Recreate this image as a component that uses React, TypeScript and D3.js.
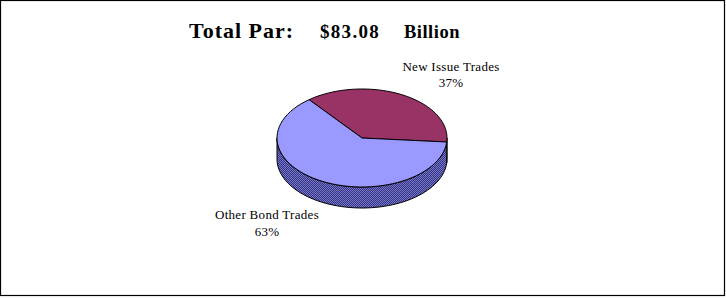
import React from "react";
import * as d3 from "d3";

// Share of total par by trade type
const categories = ["New Issue Trades", "Other Bond Trades"];
const shares = [37, 63];
const percentLabels = ["37%", "63%"];
const titleParts = ["Total Par:", "$83.08", "Billion"];

const W = 726;
const H = 298;

const topColors = ["#993366", "#9999FF"];
const sideFills = ["#4a1030", "url(#sideChecker)"];

export default function App() {
  const cx = 362;
  const cy = 138;
  const rx = 85;
  const ry = 49;
  const depth = 21;

  const start = (-38.5 * Math.PI) / 180;
  const pie = d3
    .pie<number>()
    .sort(null)
    .startAngle(start)
    .endAngle(start + 2 * Math.PI);
  const arcs = pie(shares);

  // project a d3 pie angle (0 at 12 o'clock, clockwise) onto the tilted ellipse
  const px = (a: number) => cx + rx * Math.sin(a);
  const py = (a: number, dy = 0) => cy - ry * Math.cos(a) + dy;

  const ellipseArc = (a0: number, a1: number, dy = 0) => {
    const pts = d3.range(0, 61).map((i) => {
      const a = a0 + ((a1 - a0) * i) / 60;
      return [px(a), py(a, dy)] as [number, number];
    });
    return pts;
  };

  const topPath = (a0: number, a1: number) => {
    const pts = ellipseArc(a0, a1);
    return (
      `M${cx},${cy}` +
      pts.map((p) => `L${p[0].toFixed(2)},${p[1].toFixed(2)}`).join("") +
      "Z"
    );
  };

  // visible front wall spans d3 angles PI/2 .. 3PI/2 (screen right -> left through bottom)
  const sidePath = (a0: number, a1: number) => {
    const lo = Math.PI / 2;
    const hi = (3 * Math.PI) / 2;
    const segs: [number, number][] = [];
    for (const k of [-1, 0, 1]) {
      const s = Math.max(a0, lo + k * 2 * Math.PI);
      const e = Math.min(a1, hi + k * 2 * Math.PI);
      if (e > s) segs.push([s, e]);
    }
    return segs
      .map(([s, e]) => {
        const top = ellipseArc(s, e);
        const bot = ellipseArc(s, e, depth).reverse();
        return (
          "M" +
          top.map((p) => `${p[0].toFixed(2)},${p[1].toFixed(2)}`).join("L") +
          "L" +
          bot.map((p) => `${p[0].toFixed(2)},${p[1].toFixed(2)}`).join("L") +
          "Z"
        );
      })
      .join("");
  };

  const font = "'Liberation Serif', 'Times New Roman', serif";

  return (
    <svg
      width={W}
      height={H}
      style={{ position: "absolute", left: 0, top: 0 }}
    >
      <defs>
        <pattern
          id="sideChecker"
          width={2}
          height={2}
          patternUnits="userSpaceOnUse"
        >
          <rect width={2} height={2} fill="#333380" />
          <rect width={1} height={1} fill="#7777cc" />
          <rect x={1} y={1} width={1} height={1} fill="#7777cc" />
        </pattern>
      </defs>
      <rect x={0} y={0} width={W} height={H} fill="#fff" />
      <rect
        x={0.5}
        y={0.5}
        width={724}
        height={295}
        fill="none"
        stroke="#000"
        strokeWidth={1.2}
      />

      <g fontFamily={font} fontWeight="bold" fill="#000">
        <text x={189} y={38} fontSize={22} letterSpacing={1}>
          {titleParts[0]}
        </text>
        <text x={320} y={38} fontSize={19} letterSpacing={1.3}>
          {titleParts[1]}
        </text>
        <text x={404} y={38} fontSize={18.5} letterSpacing={0.5}>
          {titleParts[2]}
        </text>
      </g>

      {arcs.map((a, i) => (
        <path
          key={"side" + i}
          d={sidePath(a.startAngle, a.endAngle)}
          fill={sideFills[i]}
          stroke="#000"
          strokeWidth={1}
        />
      ))}
      {arcs.map((a, i) => (
        <path
          key={"top" + i}
          d={topPath(a.startAngle, a.endAngle)}
          fill={topColors[i]}
          stroke="#000"
          strokeWidth={1}
        />
      ))}

      <g
        fontFamily={font}
        fontSize={13}
        fill="#000"
        textAnchor="middle"
        letterSpacing={0.3}
      >
        <text x={451} y={71}>
          {categories[0]}
        </text>
        <text x={451} y={87}>
          {percentLabels[0]}
        </text>
        <text x={267} y={219}>
          {categories[1]}
        </text>
        <text x={267} y={236}>
          {percentLabels[1]}
        </text>
      </g>
    </svg>
  );
}
